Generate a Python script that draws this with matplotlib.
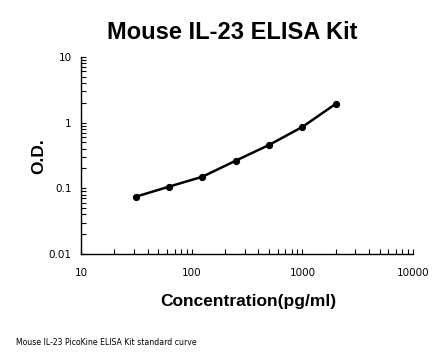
import matplotlib
matplotlib.use("Agg")
import matplotlib.pyplot as plt
from matplotlib.ticker import LogLocator, FixedLocator, FixedFormatter

# standard curve values
conc = [31.25, 62.5, 125, 250, 500, 1000, 2000]
od = [0.0745, 0.106, 0.150, 0.263, 0.456, 0.857, 1.92]

x_ticks = [10, 100, 1000, 10000]
x_labels = ["10", "100", "1000", "10000"]
y_ticks = [0.01, 0.1, 1, 10]
y_labels = ["0.01", "0.1", "1", "10"]

fig = plt.figure(figsize=(4.46, 3.56), dpi=100)
ax = fig.add_axes([0.182, 0.2865, 0.744, 0.554])

ax.plot(conc, od, color="black", lw=1.8, marker="o", ms=4.2, solid_capstyle="round")

ax.set_xscale("log")
ax.set_yscale("log")
ax.set_xlim(10, 10000)
ax.set_ylim(0.01, 10)

ax.xaxis.set_major_locator(FixedLocator(x_ticks))
ax.xaxis.set_major_formatter(FixedFormatter(x_labels))
ax.yaxis.set_major_locator(FixedLocator(y_ticks))
ax.yaxis.set_major_formatter(FixedFormatter(y_labels))
ax.xaxis.set_minor_locator(LogLocator(base=10, subs=range(2, 10)))
ax.yaxis.set_minor_locator(LogLocator(base=10, subs=range(2, 10)))
ax.xaxis.set_minor_formatter(plt.NullFormatter())
ax.yaxis.set_minor_formatter(plt.NullFormatter())

ax.tick_params(axis="x", which="both", direction="in", length=3.5, width=0.8, labelsize=7.5, pad=10)
ax.tick_params(axis="y", which="both", direction="in", length=3.5, width=0.8, labelsize=7.5, pad=7)

for s in ["top", "right"]:
    ax.spines[s].set_visible(False)
for s in ["left", "bottom"]:
    ax.spines[s].set_linewidth(1.0)

fig.text(0.52, 0.91, "Mouse IL-23 ELISA Kit", ha="center", va="center",
         fontsize=17, fontweight="bold", family="Liberation Sans")
fig.text(0.556, 0.152, "Concentration(pg/ml)", ha="center", va="center",
         fontsize=12.5, fontweight="bold", family="Liberation Sans")
fig.text(0.086, 0.562, "O.D.", ha="center", va="center", rotation=90,
         fontsize=12.5, fontweight="bold", family="Liberation Sans")
fig.text(0.036, 0.039, "Mouse IL-23 PicoKine ELISA Kit standard curve",
         ha="left", va="center", fontsize=5.6)

fig.savefig("out.png", dpi=100)
